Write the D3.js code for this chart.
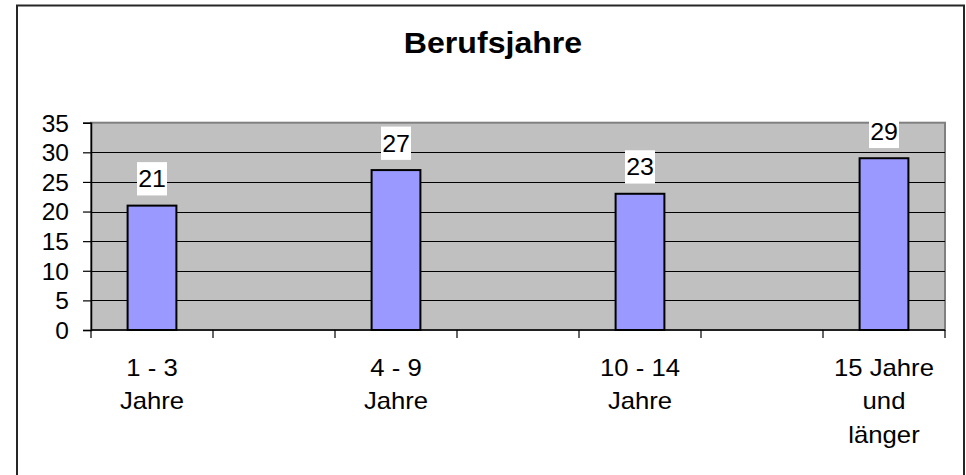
<!DOCTYPE html>
<html><head><meta charset="utf-8">
<script src="https://cdn.jsdelivr.net/npm/d3@7/dist/d3.min.js"></script>
<style>
html,body{margin:0;padding:0;background:#fff;}
svg{display:block;}
text{font-family:"Liberation Sans",Arial,sans-serif;fill:#000;}
</style></head>
<body>
<svg id="c" width="966" height="475"></svg>
<script>
const title = "Berufsjahre";
// Excel source has 7 category slots; empty slots separate the four groups
const categories = [["1 - 3","Jahre"], [""], ["4 - 9","Jahre"], [""], ["10 - 14","Jahre"], [""], ["15 Jahre","und","länger"]];
const values = [21, null, 27, null, 23, null, 29];
const yTicks = [0, 5, 10, 15, 20, 25, 30, 35];

const svg = d3.select("#c");
const M = {left: 91, right: 945, top: 122.7, bottom: 330};

// outer chart border
svg.append("path")
  .attr("d", `M17,480 L17,5.5 L964,5.5 L964,480`)
  .attr("fill", "none").attr("stroke", "#262626").attr("stroke-width", 2);

svg.append("text").text(title)
  .attr("text-anchor", "middle")
  .attr("font-size", 30).attr("font-weight", "bold")
  .attr("transform", "translate(493,53) scale(1.07,1)");

const x = d3.scaleBand().domain(d3.range(categories.length)).range([M.left, M.right]).padding(0);
const y = d3.scaleLinear().domain([0, 35]).range([M.bottom, M.top]);

// plot area
svg.append("rect").attr("x", M.left).attr("y", M.top)
  .attr("width", M.right - M.left).attr("height", M.bottom - M.top)
  .attr("fill", "#c0c0c0").attr("stroke", "#808080").attr("stroke-width", 2);

// gridlines
svg.append("g").selectAll("line").data(yTicks.filter(t => t > 0 && t < 35)).join("line")
  .attr("x1", M.left).attr("x2", M.right)
  .attr("y1", d => Math.round(y(d)) + 0.5).attr("y2", d => Math.round(y(d)) + 0.5)
  .attr("stroke", "#000").attr("stroke-width", 1);

// y axis
const yAxis = d3.axisLeft(y).tickValues(yTicks).tickSize(8).tickPadding(14);
const gy = svg.append("g").attr("transform", `translate(${M.left},0)`).call(yAxis);
gy.select(".domain").attr("stroke", "#000").attr("stroke-width", 1.5);
gy.selectAll(".tick line").attr("stroke", "#000").attr("stroke-width", 1.2);
gy.selectAll(".tick text").attr("font-size", 24.5).attr("font-family", '"Liberation Sans",Arial,sans-serif')
  .attr("dy", "0.34em");

// x axis with boundary ticks
const boundaries = d3.range(categories.length + 1).map(i => M.left + i * x.step());
svg.append("line").attr("x1", M.left).attr("x2", M.right).attr("y1", M.bottom).attr("y2", M.bottom)
  .attr("stroke", "#000").attr("stroke-width", 1.5);
svg.append("g").selectAll("line").data(boundaries).join("line")
  .attr("x1", d => d).attr("x2", d => d).attr("y1", M.bottom).attr("y2", M.bottom + 8)
  .attr("stroke", "#000").attr("stroke-width", 1.2);

// category labels
const cl = svg.append("g").selectAll("text").data(categories).join("text")
  .attr("text-anchor", "middle").attr("font-size", 24)
  .attr("transform", (d, i) => `translate(${x(i) + x.bandwidth() / 2},376) scale(1.07,1)`);
cl.selectAll("tspan").data(d => d).join("tspan")
  .attr("x", 0).attr("y", (d, j) => j * 33.3).text(d => d);

// bars
const bw = x.bandwidth() * 0.4;
const barData = values.map((v, i) => ({v, i})).filter(d => d.v != null);
svg.append("g").selectAll("rect").data(barData).join("rect")
  .attr("x", d => x(d.i) + (x.bandwidth() - bw) / 2)
  .attr("y", d => y(d.v))
  .attr("width", bw).attr("height", d => y(0) - y(d.v))
  .attr("fill", "#9999ff").attr("stroke", "#000").attr("stroke-width", 2);

// value labels with white boxes
const lab = svg.append("g").selectAll("g").data(barData).join("g")
  .attr("transform", d => `translate(${x(d.i) + x.bandwidth() / 2},${y(d.v) - 18.5})`);
lab.append("rect").attr("x", -15).attr("y", -25).attr("width", 30).attr("height", 33.3).attr("fill", "#fff");
lab.append("text").attr("text-anchor", "middle").attr("font-size", 24)
  .attr("transform", "scale(1.04,1)").text(d => d.v);
</script>
</body></html>
